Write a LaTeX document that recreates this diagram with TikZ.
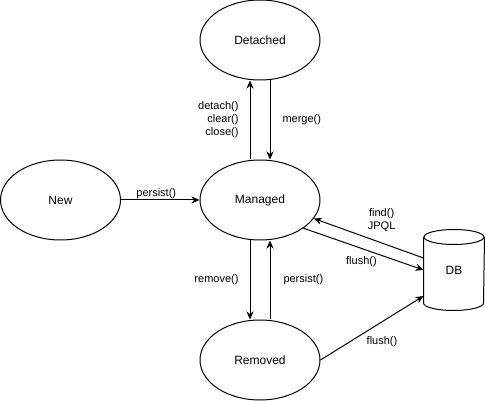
\documentclass[tikz,border=0pt]{standalone}
\usepackage{fontspec}
\setmainfont{Liberation Sans}
\usetikzlibrary{shapes, arrows.meta, positioning}

\begin{document}
\begin{tikzpicture}[x=1pt,y=1pt,line width=1pt,
  state/.style={draw, ellipse, minimum width=120pt, minimum height=80pt, inner sep=0pt, font=\fontsize{12}{14}\selectfont},
  lbl/.style={font=\fontsize{11}{13}\selectfont, inner sep=1pt, align=center},
  arr/.style={-{Stealth[length=8pt,width=7pt,inset=2.5pt]}}]
\useasboundingbox (0,0) rectangle (485,402);
\node[state] (detached) at (260,362) {Detached};
\node[state] (managed) at (260,202) {Managed};
\node[state] (new) at (60.5,202) {New};
\node[state] (removed) at (260,42) {Removed};
\node[minimum width=60pt, minimum height=80pt, inner sep=0pt, font=\fontsize{12}{14}\selectfont] (db) at (454,132) {DB};
% cylinder outline of the DB node
\draw ([yshift=-7.5pt]db.north) ellipse [x radius=30, y radius=7.5];
\draw ([yshift=-7.5pt]db.north west) -- ([yshift=7.5pt]db.south west) arc[start angle=180, end angle=360, x radius=30, y radius=7.5] -- ([yshift=-7.5pt]db.north east);
\draw[arr] (new) -- (managed) node[lbl, midway, above, xshift=-4pt] {persist()};
\draw[arr] ([xshift=-10pt]managed.north) -- ([xshift=-10pt]detached.south) node[lbl, midway, left=10pt, align=right] {detach()\\clear()\\close()};
\draw[arr] ([xshift=10pt]detached.south) -- ([xshift=10pt]managed.north) node[lbl, midway, right=11pt] {merge()};
\draw[arr] ([xshift=-10pt]managed.south) -- ([xshift=-10pt]removed.north) node[lbl, midway, left=10pt] {remove()};
\draw[arr] ([xshift=10pt]removed.north) -- ([xshift=10pt]managed.south) node[lbl, midway, right=12pt] {persist()};
\draw[arr] ([yshift=12pt]db.west) -- (managed.-19) node[lbl, midway, xshift=13pt, yshift=18pt] {find()\\JPQL};
\draw[arr] (managed.-33) -- (db.west) node[lbl, midway, below=6pt, xshift=-2pt] {flush()};
\draw[arr] (removed.east) -- ([yshift=-26pt]db.west) node[lbl, midway, xshift=10pt, yshift=-14pt] {flush()};
\end{tikzpicture}
\end{document}
